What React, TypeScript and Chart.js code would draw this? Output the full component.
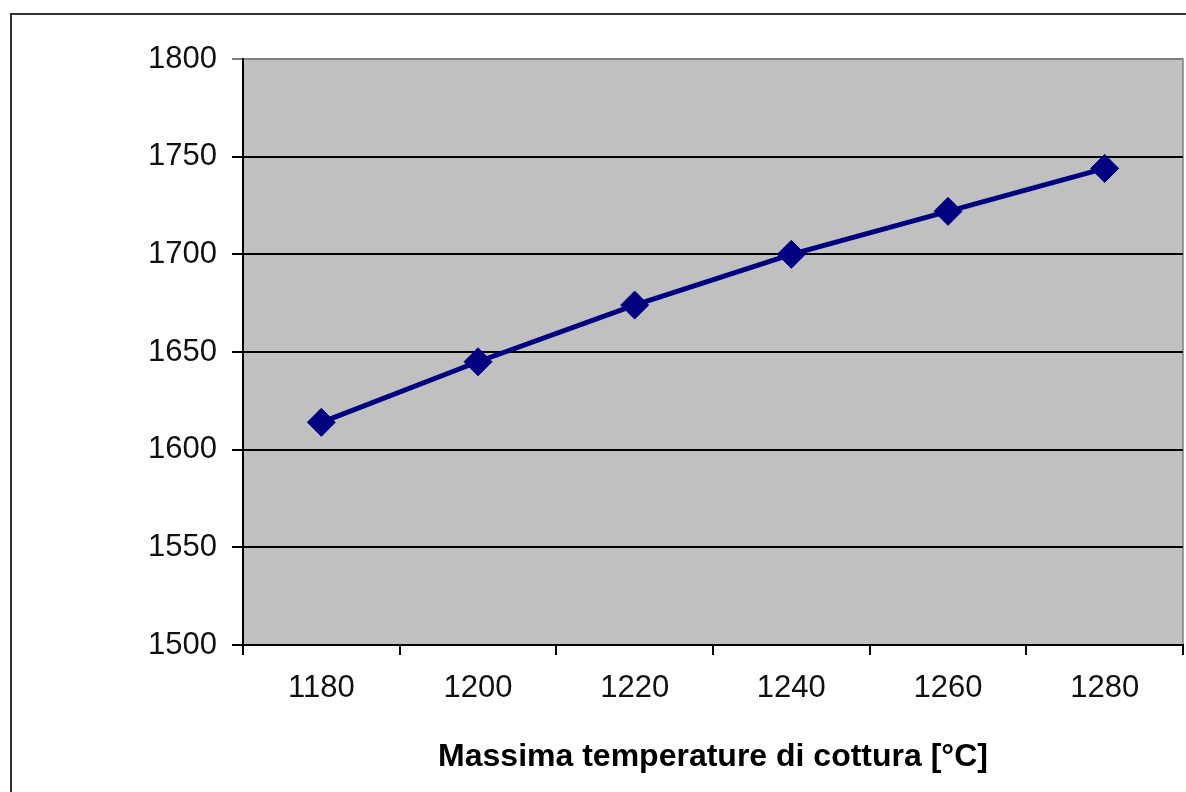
import React, { useEffect, useRef } from "react";
import { Chart, registerables } from "chart.js";

Chart.register(...registerables);

const categories = ["1180", "1200", "1220", "1240", "1260", "1280"];
const values = [1614, 1645, 1674, 1700, 1722, 1744];
const yMin = 1500;
const yMax = 1800;
const yStep = 50;
const xTitle = "Massima temperature di cottura [°C]";

const FONT = "'Liberation Sans', Arial, sans-serif";

const decorPlugin = {
  id: "decor",
  beforeDraw(chart: any) {
    const { ctx, chartArea, width, height } = chart;
    ctx.save();
    ctx.fillStyle = "#ffffff";
    ctx.fillRect(0, 0, width, height);
    // outer chart border
    ctx.strokeStyle = "#333333";
    ctx.lineWidth = 2;
    ctx.beginPath();
    ctx.moveTo(11, height + 5);
    ctx.lineTo(11, 14);
    ctx.lineTo(width + 5, 14);
    ctx.stroke();
    // plot area
    ctx.fillStyle = "#c0c0c0";
    ctx.fillRect(
      chartArea.left,
      chartArea.top,
      chartArea.right - chartArea.left,
      chartArea.bottom - chartArea.top
    );
    ctx.strokeStyle = "#808080";
    ctx.lineWidth = 1.5;
    ctx.strokeRect(
      chartArea.left,
      chartArea.top,
      chartArea.right - chartArea.left,
      chartArea.bottom - chartArea.top
    );
    ctx.restore();
  },
};

export default function App() {
  const ref = useRef<HTMLCanvasElement | null>(null);

  useEffect(() => {
    if (!ref.current) return;
    const chart = new Chart(ref.current, {
      type: "line",
      data: {
        labels: categories,
        datasets: [
          {
            data: values,
            borderColor: "#000080",
            backgroundColor: "#000080",
            borderWidth: 5,
            pointStyle: "rectRot",
            pointRadius: 14,
            pointBorderWidth: 1,
            pointBackgroundColor: "#000080",
            pointBorderColor: "#000080",
            tension: 0,
          },
        ],
      },
      options: {
        animation: false,
        responsive: false,
        maintainAspectRatio: false,
        layout: {
          autoPadding: false,
          padding: { left: 0, top: 59, right: 3, bottom: 0 },
        },
        plugins: {
          legend: { display: false },
          tooltip: { enabled: false },
        },
        scales: {
          x: {
            type: "category",
            offset: true,
            grid: {
              offset: true,
              drawOnChartArea: false,
              drawTicks: true,
              tickLength: 10,
              color: "#000000",
              lineWidth: 2,
            },
            border: { display: true, color: "#000000", width: 2 },
            ticks: {
              color: "#111111",
              font: { family: FONT, size: 31 },
              padding: 15,
              maxRotation: 0,
              autoSkip: false,
            },
            title: {
              display: true,
              text: xTitle,
              color: "#000000",
              font: { family: FONT, size: 32, weight: "bold" },
              padding: { top: 0, bottom: 16 },
            },
            afterFit: (s: any) => {
              s.height = 147;
            },
          },
          y: {
            min: yMin,
            max: yMax,
            ticks: {
              stepSize: yStep,
              color: "#111111",
              font: { family: FONT, size: 31 },
              padding: 15,
              callback: (v: any) => String(v),
            },
            grid: {
              drawTicks: true,
              tickLength: 11,
              lineWidth: 2,
              color: (c: any) =>
                c.tick && c.tick.value === yMax ? "#808080" : "#000000",
            },
            border: { display: true, color: "#000000", width: 2 },
            afterFit: (s: any) => {
              s.width = 243;
            },
          },
        },
      },
      plugins: [decorPlugin],
    });
    return () => chart.destroy();
  }, []);

  return (
    <div
      style={{
        position: "absolute",
        left: 0,
        top: 0,
        width: 1186,
        height: 792,
        background: "#fff",
      }}
    >
      <canvas ref={ref} width={1186} height={792} />
    </div>
  );
}
